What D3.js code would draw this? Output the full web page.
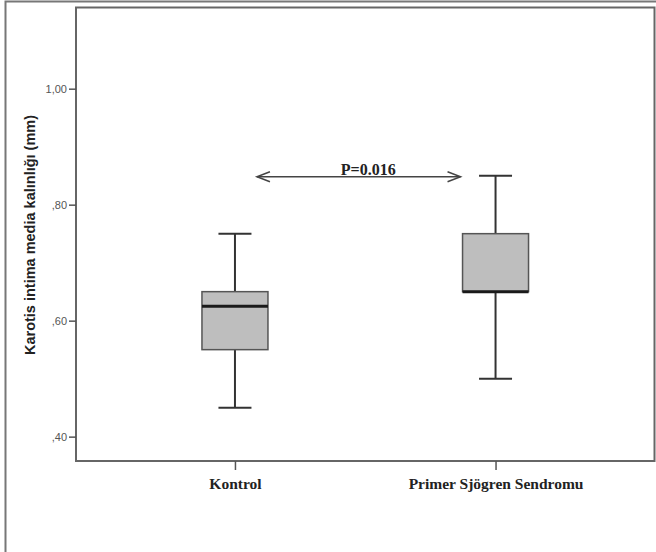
<!DOCTYPE html>
<html>
<head>
<meta charset="utf-8">
<script src="https://d3js.org/d3.v7.min.js"></script>
<style>
  body { margin: 0; background: #fff; }
  svg { display: block; }
</style>
</head>
<body>
<div id="chart"></div>
<script>
'use strict';

/**** DATA ****/
var groups = ["Kontrol", "Primer Sjögren Sendromu"];
var whiskerLow = [0.45, 0.50];
var q1 = [0.55, 0.65];
var medians = [0.625, 0.65];
var q3 = [0.65, 0.75];
var whiskerHigh = [0.75, 0.85];
var yTicks = [0.40, 0.60, 0.80, 1.00];
var yLabel = "Karotis intima media kalınlığı (mm)";
var pText = "P=0.016";
var pLevel = 0.85;

/**** LAYOUT ****/
var width = 656, height = 552;
var plot = { left: 76, top: 7.5, right: 654.5, bottom: 461 };

var svg = d3.select("#chart")
  .append("svg")
  .attr("width", width)
  .attr("height", height);

// outer frame (cut on right and bottom in the original)
svg.append("path")
  .attr("d", "M5.5," + height + "V1.5H" + width)
  .attr("fill", "none")
  .attr("stroke", "#777")
  .attr("stroke-width", 2);

var x = d3.scalePoint()
  .domain(groups)
  .range([plot.left, plot.right])
  .padding(0.61);

var y = d3.scaleLinear()
  .domain([0.358, 1.14])
  .range([plot.bottom, plot.top]);

var boxW = 66, capW = 33;

// plot frame
svg.append("rect")
  .attr("x", plot.left)
  .attr("y", plot.top)
  .attr("width", plot.right - plot.left)
  .attr("height", plot.bottom - plot.top)
  .attr("fill", "none")
  .attr("stroke", "#666")
  .attr("stroke-width", 2);

// y axis
var fmt = function(d) { return d.toFixed(2).replace(".", ",").replace(/^0/, ""); };
var yAxis = svg.append("g")
  .attr("transform", "translate(" + plot.left + ",0)")
  .call(d3.axisLeft(y).tickValues(yTicks).tickFormat(fmt).tickSize(7).tickPadding(2));
yAxis.select(".domain").remove();
yAxis.selectAll("line").attr("stroke", "#555").attr("stroke-width", 1.5);
yAxis.selectAll("text")
  .attr("fill", "#555")
  .style("font-family", "'Liberation Sans', Arial, sans-serif")
  .style("font-size", "11px");

// x axis
var xAxis = svg.append("g")
  .attr("transform", "translate(0," + plot.bottom + ")")
  .call(d3.axisBottom(x).tickSize(9).tickPadding(0));
xAxis.select(".domain").remove();
xAxis.selectAll("line").attr("stroke", "#555").attr("stroke-width", 1.5);
xAxis.selectAll("text")
  .attr("y", 28)
  .attr("dy", null)
  .attr("fill", "#222")
  .style("font-family", "'Liberation Serif', 'Times New Roman', serif")
  .style("font-weight", "bold")
  .style("font-size", "15.5px");

// y label
svg.append("text")
  .attr("transform", "translate(35," + 235 + ") rotate(-90)")
  .attr("text-anchor", "middle")
  .attr("fill", "#222")
  .style("font-family", "'Liberation Sans', Arial, sans-serif")
  .style("font-weight", "bold")
  .style("font-size", "14.5px")
  .text(yLabel);

// boxes
var data = groups.map(function(g, i) {
  return { name: g, lo: whiskerLow[i], q1: q1[i], med: medians[i], q3: q3[i], hi: whiskerHigh[i] };
});

var boxes = svg.append("g").selectAll("g")
  .data(data)
  .enter().append("g");

// whiskers
boxes.append("line")
  .attr("x1", function(d) { return x(d.name); })
  .attr("x2", function(d) { return x(d.name); })
  .attr("y1", function(d) { return y(d.lo); })
  .attr("y2", function(d) { return y(d.hi); })
  .attr("stroke", "#333")
  .attr("stroke-width", 2);

["lo", "hi"].forEach(function(k) {
  boxes.append("line")
    .attr("x1", function(d) { return x(d.name) - capW / 2; })
    .attr("x2", function(d) { return x(d.name) + capW / 2; })
    .attr("y1", function(d) { return y(d[k]); })
    .attr("y2", function(d) { return y(d[k]); })
    .attr("stroke", "#333")
    .attr("stroke-width", 2);
});

boxes.append("rect")
  .attr("x", function(d) { return x(d.name) - boxW / 2; })
  .attr("y", function(d) { return y(d.q3); })
  .attr("width", boxW)
  .attr("height", function(d) { return y(d.q1) - y(d.q3); })
  .attr("fill", "#bebebe")
  .attr("stroke", "#555")
  .attr("stroke-width", 1.5);

boxes.append("line")
  .attr("x1", function(d) { return x(d.name) - boxW / 2; })
  .attr("x2", function(d) { return x(d.name) + boxW / 2; })
  .attr("y1", function(d) { return y(d.med); })
  .attr("y2", function(d) { return y(d.med); })
  .attr("stroke", "#1a1a1a")
  .attr("stroke-width", 3);

// p-value arrow
var ay = y(pLevel) + 1;
var ax1 = x(groups[0]) + 22, ax2 = x(groups[1]) - 35;
var arrow = svg.append("g")
  .attr("fill", "none")
  .attr("stroke", "#444")
  .attr("stroke-width", 1.5);
arrow.append("line").attr("x1", ax1).attr("x2", ax2).attr("y1", ay).attr("y2", ay);
arrow.append("path").attr("d", "M" + (ax1 + 13) + "," + (ay - 5) + "L" + ax1 + "," + ay + "L" + (ax1 + 13) + "," + (ay + 5));
arrow.append("path").attr("d", "M" + (ax2 - 13) + "," + (ay - 5) + "L" + ax2 + "," + ay + "L" + (ax2 - 13) + "," + (ay + 5));

svg.append("text")
  .attr("x", (x(groups[0]) + x(groups[1])) / 2 + 3)
  .attr("y", ay - 2)
  .attr("text-anchor", "middle")
  .attr("fill", "#222")
  .style("font-family", "'Liberation Serif', 'Times New Roman', serif")
  .style("font-weight", "bold")
  .style("font-size", "16px")
  .text(pText);
</script>
</body>
</html>
